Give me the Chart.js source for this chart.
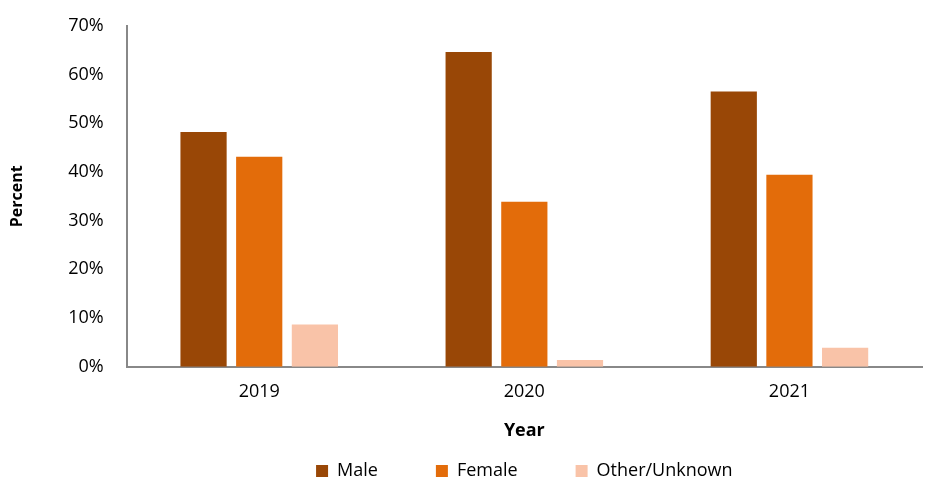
<!DOCTYPE html>
<html>
<head>
    <title>Percent by sex</title>
    <script src="https://cdn.jsdelivr.net/npm/chart.js"></script>
    <style>
        body { margin: 0; background: #fff; }
        #wrap { width: 926px; height: 479px; }
    </style>
</head>
<body>
<div id="wrap"><canvas id="sexChart" width="926" height="479"></canvas></div>
<script>
    const years = ['2019', '2020', '2021'];
    const seriesNames = ['Male', 'Female', 'Other/Unknown'];
    const male = [48.2, 64.6, 56.5];
    const female = [43.1, 33.9, 39.4];
    const other = [8.7, 1.4, 3.9];
    const yTicks = [0, 10, 20, 30, 40, 50, 60, 70];

    const font = "'Open Sans', 'DejaVu Sans', sans-serif";
    Chart.defaults.font.family = font;
    Chart.defaults.color = '#000';

    const ctx = document.getElementById('sexChart').getContext('2d');
    new Chart(ctx, {
        type: 'bar',
        data: {
            labels: years,
            datasets: [
                { label: seriesNames[0], data: male, backgroundColor: '#994706' },
                { label: seriesNames[1], data: female, backgroundColor: '#E36C0A' },
                { label: seriesNames[2], data: other, backgroundColor: '#F9C3A8' }
            ]
        },
        options: {
            responsive: false,
            animation: false,
            layout: { padding: { top: -3, right: 4, left: 4, bottom: -11 } },
            datasets: { bar: { categoryPercentage: 0.63, barPercentage: 0.83 } },
            plugins: {
                tooltip: { enabled: false },
                legend: {
                    position: 'bottom',
                    fullSize: false, // centre under the plot area, not the canvas
                    labels: {
                        boxWidth: 12, boxHeight: 12, padding: 1, font: { size: 18 },
                        // wide gaps between items without the tall vertical padding
                        generateLabels: chart => {
                            const items = Chart.defaults.plugins.legend.labels.generateLabels(chart);
                            items.forEach((it, i) => {
                                if (i < items.length - 1) it.text = it.text + '\u2003\u2003\u2003\u2009';
                            });
                            return items;
                        }
                    }
                }
            },
            scales: {
                x: {
                    grid: { display: false },
                    border: { display: true, color: '#888', width: 2 },
                    ticks: { font: { size: 18 }, padding: 6 },
                    title: { display: true, text: 'Year', font: { size: 18, weight: 'bold' }, padding: { top: 12, bottom: 19 } }
                },
                y: {
                    min: 0,
                    max: 70,
                    afterBuildTicks: axis => { axis.ticks = yTicks.map(v => ({ value: v })); },
                    grid: { display: false },
                    border: { display: true, color: '#888', width: 2 },
                    ticks: { font: { size: 18 }, padding: 15, callback: v => v + '%' },
                    title: { display: true, text: 'Percent', font: { size: 16, weight: 'bold' }, padding: { bottom: 26 } }
                }
            }
        }
    });
</script>
</body>
</html>
